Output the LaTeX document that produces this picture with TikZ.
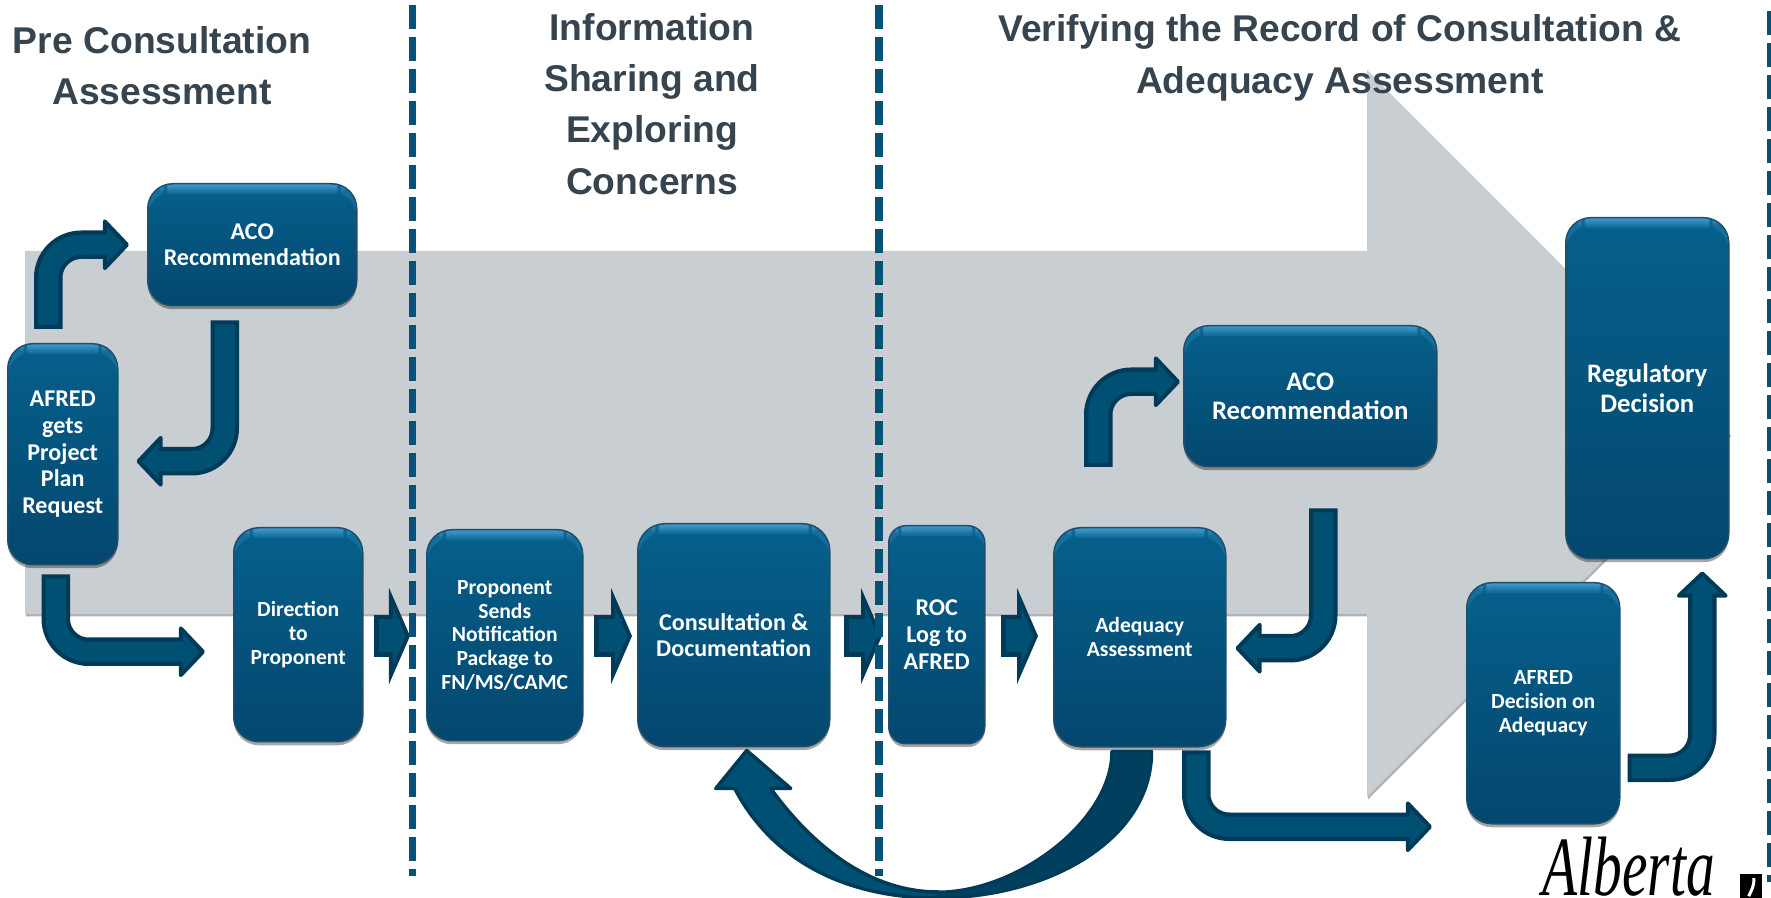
\documentclass[tikz,border=0pt]{standalone}
\usepackage{fontspec}
\setmainfont{Carlito}
\newfontfamily\headfont{Liberation Sans}
\newfontfamily\logofont[FakeStretch=0.68]{Liberation Serif}
\usetikzlibrary{shadows}
\usetikzlibrary{arrows.meta}
\usetikzlibrary{calc}

\definecolor{bandGrey}{HTML}{C9CED3}
\definecolor{boxTop}{HTML}{05608C}
\definecolor{boxBottom}{HTML}{04476E}
\definecolor{boxBevel}{HTML}{3F97C9}
\definecolor{boxEdge}{HTML}{1F4E6B}
\definecolor{arrowFill}{HTML}{005073}
\definecolor{arrowEdge}{HTML}{003A59}
\definecolor{arrowDeep}{HTML}{00405F}
\definecolor{dashBlue}{HTML}{045278}
\definecolor{headGrey}{HTML}{36444F}

\begin{document}
\begin{tikzpicture}[y=-1cm]

\tikzstyle{stepBox}=[rectangle,anchor=north west,align=center,rounded corners=0.25cm,draw=boxEdge,line width=0.015cm,text=white,top color=boxTop,bottom color=boxBottom,drop shadow={shadow xshift=0cm,shadow yshift=-0.035cm,opacity=0.35,fill=black},path picture={\foreach \d/\m in {0.00/100,0.02/85,0.04/65,0.06/45,0.08/25}{\fill [boxBevel!\m!boxTop] ([yshift=-\d cm]path picture bounding box.north west) rectangle ([yshift=-\d cm-0.025cm]path picture bounding box.north east);};}];
\tikzstyle{labelBig}=[font=\fontsize{7.6}{8.3}\selectfont\bfseries];
\tikzstyle{labelMid}=[font=\fontsize{6.85}{7.6}\selectfont\bfseries];
\tikzstyle{labelSmall}=[font=\fontsize{6.15}{6.75}\selectfont\bfseries];
\tikzstyle{headText}=[align=center,text=headGrey,font=\fontsize{10.6}{14.6}\selectfont\headfont\bfseries];
\tikzstyle{bentArrow}=[draw=arrowEdge,line width=0.285cm,rounded corners=0.33cm,-{Triangle[length=0.27cm,width=0.56cm,fill=arrowFill,line width=0.04cm,round]},postaction={draw=arrowFill,line width=0.2cm,shorten <=0.04cm,shorten >=0.19cm,-}];
\tikzstyle{flowArrow}=[draw=arrowEdge,line width=0.42cm,-{Triangle[length=0.21cm,width=0.96cm,fill=arrowFill,line width=0.04cm]},postaction={draw=arrowFill,line width=0.33cm,shorten <=0.05cm,shorten >=0.1cm,-}];
\tikzstyle{dashLine}=[draw=dashBlue,line width=0.075cm,dash pattern=on 0.24cm off 0.08cm];

\clip (0,0) rectangle (17.71,8.98);

% big band behind everything
\fill [bandGrey,drop shadow={shadow xshift=0.01cm,shadow yshift=-0.025cm,opacity=0.3,fill=black}] (0.25,2.51) -- (13.67,2.51) -- (13.67,0.70) -- (17.30,4.335) -- (13.67,7.97) -- (13.67,6.14) -- (0.25,6.14) -- cycle;

\node [headText] (headPre) at (1.62,0.66) {Pre Consultation\\Assessment};
\node [headText] (headInfo) at (6.52,1.04) {Information\\Sharing and\\Exploring\\Concerns};
\node [headText] (headVerify) at (13.40,0.58) {Verifying the Record of Consultation \&\\Adequacy Assessment};

\node [stepBox,labelMid,minimum width=1.10cm,minimum height=2.21cm] (afred) at (0.07,3.43) {AFRED\\gets\\Project\\Plan\\Request};
\node [stepBox,labelMid,minimum width=2.09cm,minimum height=1.22cm] (acoFirst) at (1.47,1.83) {ACO\\Recommendation};
\node [stepBox,labelSmall,minimum width=1.29cm,minimum height=2.14cm] (direction) at (2.33,5.27) {Direction\\to\\Proponent};
\node [stepBox,labelSmall,minimum width=1.56cm,minimum height=2.11cm] (proponent) at (4.26,5.29) {Proponent\\Sends\\Notification\\Package to\\FN/MS/CAMC};
\node [stepBox,labelMid,rounded corners=0.27cm,minimum width=1.92cm,minimum height=2.23cm] (consult) at (6.37,5.23) {Consultation \&\\Documentation};
\node [stepBox,labelMid,rounded corners=0.17cm,minimum width=0.96cm,minimum height=2.18cm] (roc) at (8.88,5.25) {ROC\\Log to\\AFRED};
\node [stepBox,labelSmall,rounded corners=0.27cm,minimum width=1.72cm,minimum height=2.19cm] (adequacy) at (10.53,5.27) {Adequacy\\Assessment};
\node [stepBox,labelBig,minimum width=2.53cm,minimum height=1.41cm] (acoSecond) at (11.83,3.25) {ACO\\Recommendation};
\node [stepBox,labelBig,minimum width=1.63cm,minimum height=3.41cm] (regulatory) at (15.65,2.17) {Regulatory\\Decision};
\node [stepBox,labelSmall,minimum width=1.53cm,minimum height=2.41cm] (decision) at (14.66,5.82) {AFRED\\Decision on\\Adequacy};

% bent arrows
\draw [bentArrow] ($(afred.north)+(-0.145,-0.14)$) |- ($(acoFirst.west)+(-0.18,0)$);
\draw [bentArrow] ($(acoFirst.south)+(-0.275,0.14)$) |- ($(afred.east)+(0.18,0.07)$);
\draw [bentArrow] ($(afred.south)+(-0.07,0.09)$) |- ($(direction.west)+(-0.28,0.17)$);
\draw [bentArrow] ($(adequacy.north)+(-0.415,-0.60)$) |- ($(acoSecond.west)+(-0.03,-0.145)$);
\draw [bentArrow] ($(acoSecond.south)+(0.13,0.41)$) |- ($(adequacy.east)+(0.09,0.11)$);
\draw [bentArrow] ($(adequacy.south)+(0.565,0.03)$) |- ($(decision.west)+(-0.34,1.235)$);
\draw [bentArrow] ($(decision.east)+(0.07,0.645)$) -| ($(regulatory.south)+(0.55,0.12)$);

% arrows along the flow
\coordinate (flow) at (0,6.36);
\foreach \a/\b/\s/\e in {direction/proponent/0.10/-0.16,proponent/consult/0.10/-0.05,consult/roc/0.13/-0.06,roc/adequacy/0.15/-0.15}{
	\draw [flowArrow] ($(\a.east |- flow)+(\s,0)$) -- ($(\b.west |- flow)+(\e,0)$);
};

% way back from adequacy to consultation
\coordinate (backOuter) at ($(adequacy.south)+(0.12,0.04)$);
\coordinate (backInner) at ($(adequacy.south)+(-0.28,0.04)$);
\coordinate (backTip) at ($(consult.south)+(0.13,0.03)$);
\filldraw [arrowDeep,draw=arrowEdge,line width=0.03cm,line join=round] (backOuter) .. controls (11.52,8.40) and (10.48,8.98) .. (9.38,8.98) -- (9.38,8.92) .. controls (10.18,8.92) and (11.12,8.20) .. (backInner) -- cycle;
\filldraw [arrowFill,draw=arrowEdge,line width=0.035cm,line join=round] (backTip) -- ($(backTip)+(0.44,0.38)$) -- ($(backTip)+(0.24,0.38)$) .. controls (8.08,8.40) and (8.65,8.92) .. (9.38,8.92) -- (9.38,8.98) .. controls (8.45,8.98) and (7.72,8.60) .. ($(backTip)+(-0.12,0.38)$) -- ($(backTip)+(-0.31,0.38)$) -- cycle;

\foreach \x/\y/\z in {4.125/0.05/8.76,8.79/0.05/8.76,17.71/0.11/8.82}{
	\draw [dashLine] (\x,\y) -- (\x,\z);
};

\node [inner sep=0pt,anchor=base west,font=\fontsize{24}{24}\selectfont\logofont\itshape] (logoText) at (15.42,8.95) {Alberta};
\node [rectangle,fill=black,inner sep=0pt,minimum width=0.22cm,minimum height=0.25cm,anchor=north west] (logoMark) at (17.39,8.73) {};
\draw [white,line width=0.03cm] ($(logoMark.center)+(0.03,-0.08)$) .. controls ($(logoMark.center)+(0.04,0)$) and ($(logoMark.center)+(0,0.05)$) .. ($(logoMark.center)+(-0.02,0.1)$);

\end{tikzpicture}
\end{document}
